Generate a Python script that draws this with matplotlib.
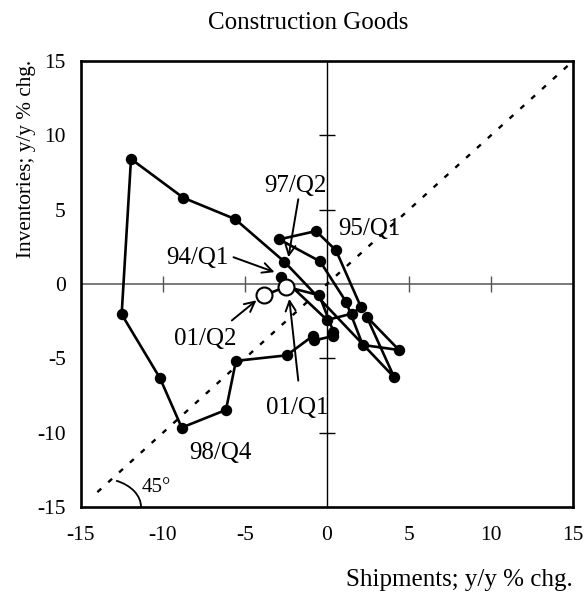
import matplotlib
matplotlib.use('Agg')
import matplotlib.pyplot as plt
from matplotlib.patches import Arc

plt.rcParams['font.family'] = ['Liberation Serif', 'DejaVu Serif']
plt.rcParams['axes.unicode_minus'] = False

# quarterly path, 94/Q1 .. 01/Q2 (y/y % chg.)
shipments = [-2.8, 0.0, 1.5, 2.07, 0.55, -0.67, -2.91, -0.42, 1.16, 2.18,
             4.39, 2.42, 4.1, -2.6, -5.61, -8.76, -11.95, -12.52, -10.18, -8.86,
             -6.16, -5.55, -2.46, -0.87, -0.8, 0.39, 0.39, -0.47, -2.5, -3.82]
inventories = [0.5, -2.42, -2.0, -1.55, 2.26, 3.56, 3.0, 1.52, -1.19, -4.1,
               -4.44, -2.2, -6.28, 1.5, 4.37, 5.8, 8.41, -2.04, -6.34, -9.66,
               -8.47, -5.17, -4.8, -3.5, -3.8, -3.5, -3.2, -0.76, -0.18, -0.76]
n_open = 2  # last two quarters drawn as open circles

ticks = [-15, -10, -5, 0, 5, 10, 15]
inner_ticks = [-10, -5, 5, 10]

# label text, label position, arrow target, arrow start (None = no arrow)
notes = [
    ('94/Q1', (-7.9, 1.75), (-3.2, 0.8), (-5.7, 1.8)),
    ('97/Q2', (-1.9, 6.6), (-2.35, 1.8), (-1.75, 5.7)),
    ('95/Q1', (2.6, 3.7), None, None),
    ('01/Q2', (-7.4, -3.7), (-4.3, -1.1), (-5.8, -2.45)),
    ('01/Q1', (-1.8, -8.35), (-2.3, -1.0), (-1.75, -6.5)),
    ('98/Q4', (-6.5, -11.4), None, None),
]

fig = plt.figure(figsize=(5.86, 5.98), dpi=100)
ax = fig.add_axes([0.1382, 0.1522, 0.9778 - 0.1382, 0.898 - 0.1522])

ax.set_xlim(-15, 15)
ax.set_ylim(-15, 15)

# zero lines with cross ticks
ax.axhline(0, color='#555555', lw=1.1, zorder=1)
ax.axvline(0, color='black', lw=1.0, zorder=1)
ax.plot(inner_ticks, [0] * len(inner_ticks), ls='none', marker='|',
        ms=11, mew=1.0, color='#555555', zorder=1)
ax.plot([0] * len(inner_ticks), inner_ticks, ls='none', marker='_',
        ms=11, mew=1.0, color='black', zorder=1)

# 45 degree line
diag = [-14.0, 14.7]
ax.plot(diag, diag, color='black', lw=1.7, ls=(0, (2.2, 4.0)), zorder=1)
ax.add_patch(Arc((-13.84, -15.0), 5.0, 3.85, theta1=0, theta2=61,
                 color='black', lw=1.3, clip_on=False))
ax.text(-11.3, -13.7, '45°', fontsize=15, va='center', ha='left')

# path
ax.plot(shipments, inventories, color='black', lw=1.9, zorder=2)
ax.plot(shipments[:-n_open], inventories[:-n_open], ls='none', marker='o',
        ms=7.2, color='black', zorder=3)
ax.plot(shipments[-n_open:], inventories[-n_open:], ls='none', marker='o',
        ms=11.5, mfc='white', mec='black', mew=1.5, zorder=4)

for label, pos, target, start in notes:
    ax.text(pos[0], pos[1], label, fontsize=18, ha='center', va='center')
    if target is not None:
        ax.annotate('', xy=target, xytext=start,
                    arrowprops=dict(arrowstyle='->', lw=1.4, color='black',
                                    mutation_scale=18, shrinkA=0, shrinkB=0))

ax.set_xticks(ticks)
ax.set_yticks(ticks)
ax.tick_params(length=0, labelsize=15.5)
ax.tick_params(axis='x', pad=14)
ax.tick_params(axis='y', pad=11)
for s in ax.spines.values():
    s.set_linewidth(1.9)

fig.text(308 / 586, 1 - 23 / 598, 'Construction Goods', fontsize=18,
         ha='center', va='center')
fig.text(573 / 586, 1 - 580 / 598, 'Shipments; y/y % chg.', fontsize=18,
         ha='right', va='center')
fig.text(27 / 586, 1 - 159 / 598, 'Inventories; y/y % chg.', fontsize=15.3,
         ha='center', va='center', rotation=90)

fig.savefig('out.png', dpi=100)
